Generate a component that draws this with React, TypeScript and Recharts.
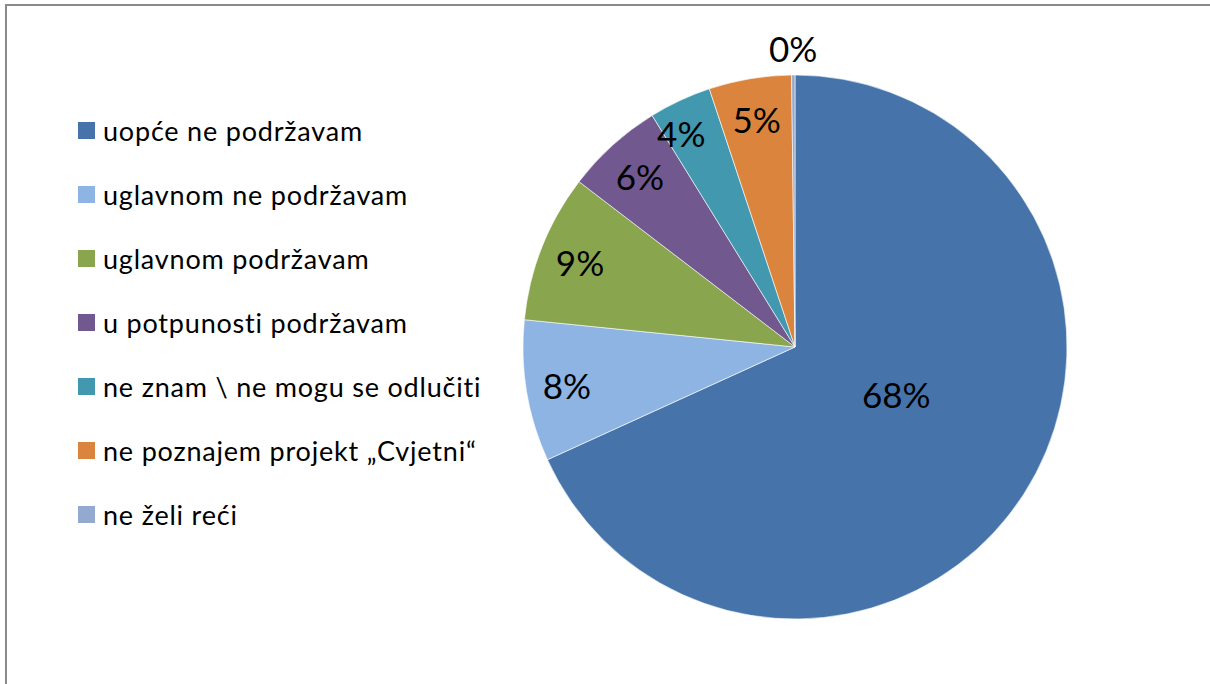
import { PieChart, Pie, Cell } from "recharts";

const categories = [
  "uopće ne podržavam",
  "uglavnom ne podržavam",
  "uglavnom podržavam",
  "u potpunosti podržavam",
  "ne znam \\ ne mogu se odlučiti",
  "ne poznajem projekt „Cvjetni“",
  "ne želi reći",
];
const shares = [68.2, 8.4, 8.8, 5.8, 3.7, 4.9, 0.2];
const colors = ["#4674AA", "#8EB4E3", "#89A54E", "#71588F", "#4198AF", "#DB843D", "#93A9CF"];

const data = categories.map((name, i) => ({ name, value: shares[i] }));

const FONT = "Lato, 'Open Sans', sans-serif";
const RAD = Math.PI / 180;

// Excel-ish best fit: big slice near center, tiny slice outside, rest near rim
function renderLabel(props: any) {
  const { cx, cy, midAngle, outerRadius, value } = props;
  let r = outerRadius * 0.85;
  let angle = midAngle;
  if (value > 50) {
    r = outerRadius * 0.41;
    angle = midAngle + 8;
  } else if (value < 1) {
    r = outerRadius * 1.1;
  } else if (value < 4) {
    r = outerRadius * 0.89;
    angle = midAngle + 3;
  }
  const x = cx + r * Math.cos(-angle * RAD);
  const y = cy + r * Math.sin(-angle * RAD);
  return (
    <text
      x={x}
      y={y}
      textAnchor="middle"
      dominantBaseline="central"
      fill="#000"
      fontSize={35}
      fontFamily={FONT}
    >
      {`${Math.round(value)}%`}
    </text>
  );
}

function LegendList() {
  return (
    <div style={{ fontFamily: FONT, fontSize: 27, letterSpacing: 0.8, color: "#000" }}>
      {data.map((d, i) => (
        <div key={d.name} style={{ display: "flex", alignItems: "center", height: 64 }}>
          <span style={{ width: 17, height: 17, background: colors[i], marginRight: 8, display: "inline-block", flexShrink: 0 }} />
          <span style={{ whiteSpace: "pre" }}>{d.name}</span>
        </div>
      ))}
    </div>
  );
}

export default function App() {
  return (
    <div style={{ position: "absolute", left: 0, top: 0, width: 1210, height: 684, background: "#fff", overflow: "hidden" }}>
      <div
        style={{
          position: "absolute",
          left: 5,
          top: 4,
          width: 1205,
          height: 680,
          borderLeft: "2px solid #8a8a8a",
          borderTop: "2px solid #8a8a8a",
        }}
      />
      <div style={{ position: "absolute", left: 0, top: 0 }}>
        <PieChart width={1210} height={684} margin={{ top: 0, right: 0, bottom: 0, left: 0 }}>
          <Pie
            data={data}
            dataKey="value"
            nameKey="name"
            cx={795}
            cy={347}
            outerRadius={272}
            startAngle={90}
            endAngle={-270}
            stroke="#fff"
            strokeWidth={0.6}
            label={renderLabel}
            labelLine={false}
            isAnimationActive={false}
          >
            {data.map((d, i) => (
              <Cell key={d.name} fill={colors[i]} />
            ))}
          </Pie>
        </PieChart>
      </div>
      <div style={{ position: "absolute", left: 78, top: 98 }}>
        <LegendList />
      </div>
    </div>
  );
}
